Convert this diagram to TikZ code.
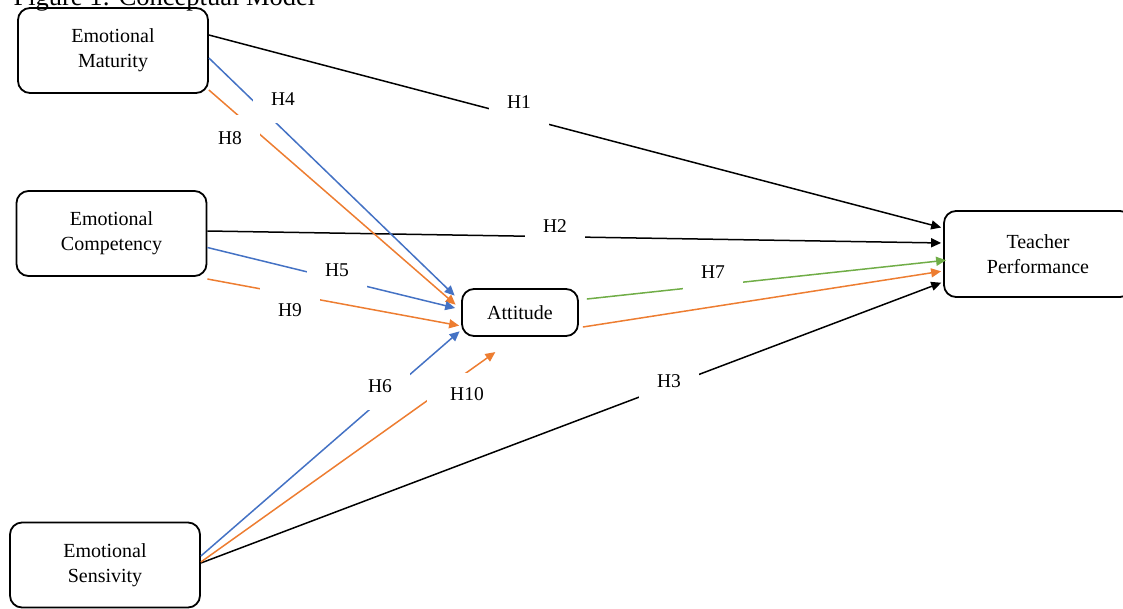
\documentclass[tikz,border=0pt]{standalone}
\usepackage{fontspec}
\setmainfont{Liberation Serif}
\usetikzlibrary{positioning, arrows.meta}
\definecolor{hblue}{RGB}{68,114,196}
\definecolor{horange}{RGB}{237,125,49}
\definecolor{hgreen}{RGB}{112,173,71}
\tikzset{%
  box/.style={draw, thick, line width=1.8pt, rounded corners=12pt, align=center,
    minimum width=190pt, minimum height=85pt, font=\fontsize{20}{25}\selectfont}, % the construct boxes
  hyp/.style={fill=white, minimum width=60pt, minimum height=47pt,
    font=\fontsize{19.5}{22}\selectfont}, % white label boxes H1..H10
  every edge/.style={%
    draw, -{Triangle[length=10pt, width=9pt]}, line width=1.5pt, shorten >= 2pt
  }
}

\begin{document}
\begin{tikzpicture}[x=1pt, y=-1pt]
    \useasboundingbox (0,0) rectangle (1123,608);
    \clip (0,0) rectangle (1123,608);
    \node[anchor=base west, font=\fontsize{26.5}{30}\selectfont] (title) at (10,5) {Figure 1: Conceptual Model};
    \node[box] (mat) at (113,50.5) {Emotional\\Maturity};
    \node[box] (comp) at (111.5,233.5) {Emotional\\Competency};
    \node[box] (sens) at (105,565) {Emotional\\Sensivity};
    \node[box, minimum width=116pt, minimum height=47pt] (att) at (520,312.5) {Attitude};
    \node[box, minimum width=188pt, minimum height=86pt] (perf) at (1038,254) {Teacher\\Performance};
    % direct paths
    \draw ([yshift=15.5]mat.east) edge[black] ([yshift=26]perf.west);
    \draw ([yshift=2.5]comp.east) edge[black] ([yshift=11]perf.west);
    \draw ([yshift=2]sens.east) edge[black] ([yshift=-28]perf.west);
    % paths to attitude
    \draw ([yshift=-7.5]mat.east) edge[hblue] ([xshift=-5,yshift=15.5]att.west);
    \draw ([yshift=-39.5]mat.east) edge[horange] ([xshift=-4,yshift=6.5]att.west);
    \draw ([yshift=-14]comp.east) edge[hblue] ([xshift=-4,yshift=4]att.west);
    \draw ([yshift=-45.5]comp.east) edge[horange] ([yshift=-13.5]att.west);
    \draw ([yshift=9]sens.east) edge[hblue] ([yshift=-17.5]att.west);
    \draw ([yshift=3]sens.east) edge[horange] ([xshift=-23,yshift=-14]att.south);
    % attitude to performance
    \draw ([xshift=8,yshift=13.5]att.east) edge[hgreen] ([xshift=5,yshift=-6]perf.west);
    \draw ([xshift=4,yshift=-14.5]att.east) edge[horange] ([yshift=-17]perf.west);
    % labels
    \node[hyp] (h1) at (519,102) {H1};
    \node[hyp] (h2) at (555,226) {H2};
    \node[hyp] (h3) at (669,381) {H3};
    \node[hyp] (h4) at (283,99) {H4};
    \node[hyp] (h5) at (337,270) {H5};
    \node[hyp] (h6) at (380,386) {H6};
    \node[hyp] (h7) at (713,272) {H7};
    \node[hyp] (h8) at (230,138) {H8};
    \node[hyp] (h9) at (290,310) {H9};
    \node[hyp, minimum width=80pt, minimum height=42pt] (h10) at (467,394) {H10};
\end{tikzpicture}
\end{document}
